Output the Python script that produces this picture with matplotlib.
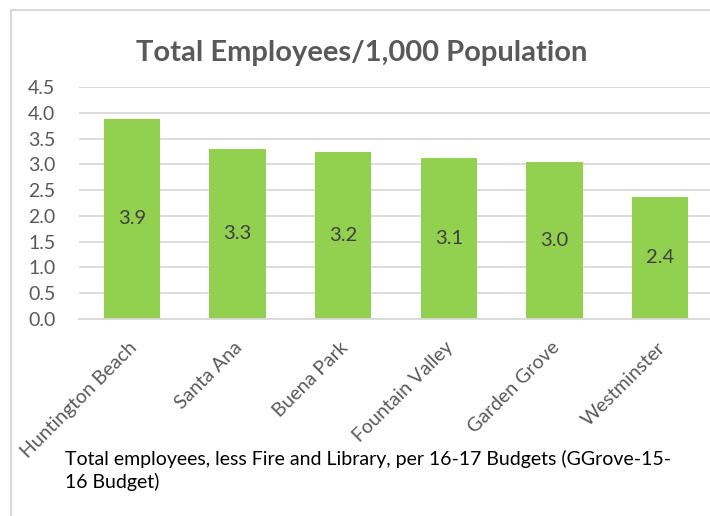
import matplotlib
matplotlib.use("Agg")
import matplotlib.pyplot as plt
import matplotlib.transforms as mtransforms
from matplotlib.patches import Rectangle

plt.rcParams['font.family'] = ['Lato', 'DejaVu Sans']

cities = ["Huntington Beach", "Santa Ana", "Buena Park",
          "Fountain Valley", "Garden Grove", "Westminster"]
employees_per_1000 = [3.88, 3.30, 3.24, 3.13, 3.04, 2.37]
y_ticks = [0.0, 0.5, 1.0, 1.5, 2.0, 2.5, 3.0, 3.5, 4.0, 4.5]

title = "Total Employees/1,000 Population"
note = ("Total employees, less Fire and Library, per 16-17 Budgets (GGrove-15-\n"
        "16 Budget)")

W, H = 710, 516
fig = plt.figure(figsize=(W / 100, H / 100), dpi=100)
fig.patch.set_facecolor("white")

# light frame around the chart area
fig.patches.append(Rectangle((11 / W, -0.2), 1.5, (H - 10) / H + 0.2,
                             transform=fig.transFigure, fill=False,
                             edgecolor="#d9d9d9", linewidth=1.5))

left, right = 79 / W, 713 / W
bottom, top = (H - 319) / H, (H - 87) / H
ax = fig.add_axes([left, bottom, right - left, top - bottom])

x = list(range(len(cities)))
bars = ax.bar(x, employees_per_1000, width=0.53, color="#92D050", zorder=2)

for xi, v in zip(x, employees_per_1000):
    ax.text(xi, v / 2, f"{v:.1f}", ha="center", va="center",
            fontsize=14.5, color="#404040", zorder=3)

ax.set_xlim(-0.5, len(cities) - 0.5)
ax.set_ylim(0, 4.5)
ax.set_yticks(y_ticks)
ax.set_yticklabels([f"{t:.1f}" for t in y_ticks])
ax.yaxis.grid(True, color="#d9d9d9", linewidth=1.3, zorder=0)
ax.set_axisbelow(True)
for s in ["left", "right", "top"]:
    ax.spines[s].set_visible(False)
ax.spines["bottom"].set_color("#d9d9d9")
ax.spines["bottom"].set_linewidth(1.3)
ax.tick_params(axis="y", length=0, pad=17, labelsize=14, labelcolor="#595959")
ax.tick_params(axis="x", length=0)

ax.set_xticks(x)
ax.set_xticklabels(cities, rotation=45, ha="right", va="center",
                   rotation_mode="anchor", fontsize=14, color="#595959")
offset = mtransforms.ScaledTranslation(2 / 100, -21 / 100, fig.dpi_scale_trans)
for lbl in ax.get_xticklabels():
    lbl.set_transform(lbl.get_transform() + offset)

fig.text(362 / W, (H - 61) / H, title, ha="center", va="baseline",
         fontsize=21, fontweight="bold", color="#595959")

fig.text(65 / W, (H - 450) / H, note, ha="left", va="top",
         fontsize=14, color="black", linespacing=1.3)

fig.savefig("out.png", dpi=100, facecolor="white")
